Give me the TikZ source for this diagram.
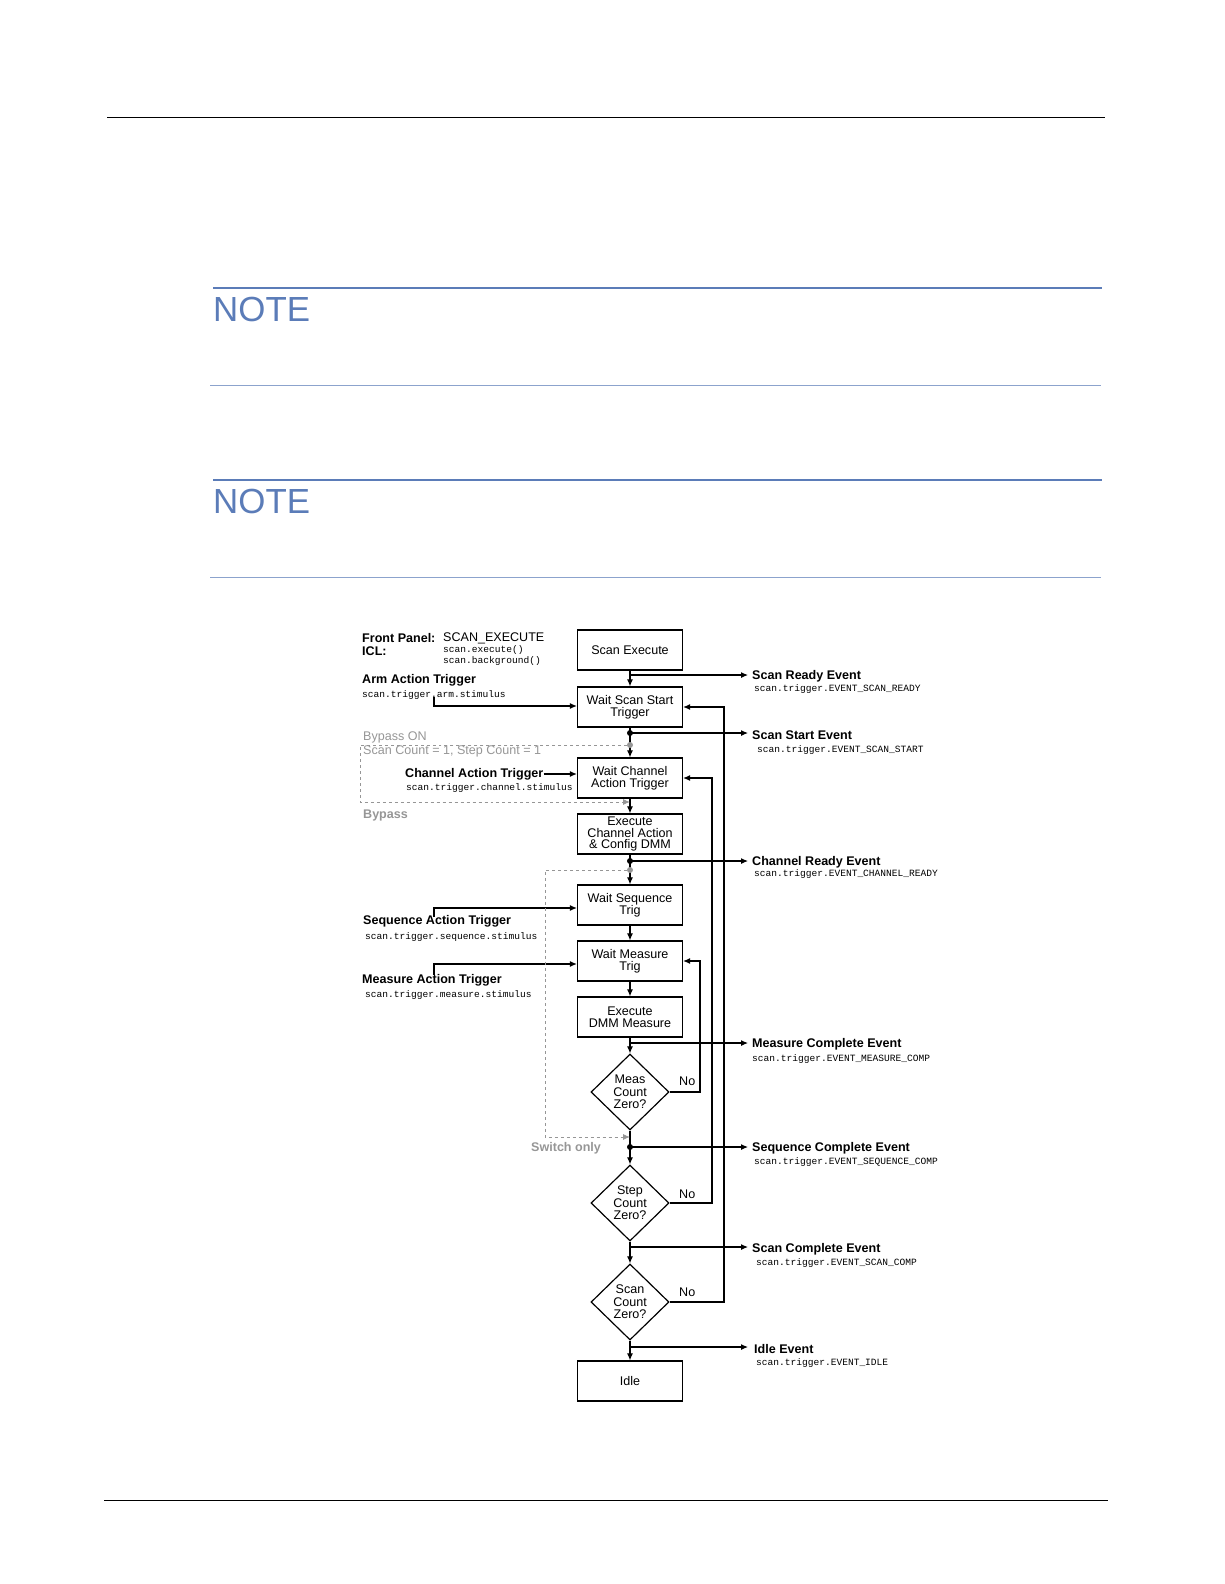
\documentclass[tikz,border=0pt]{standalone}
\usepackage{fontspec}
\setmainfont{Liberation Sans}
\newfontfamily\monof{Liberation Mono}
\usetikzlibrary{shapes.geometric,arrows.meta}
\definecolor{noteblue}{RGB}{91,124,184}
\definecolor{byg}{RGB}{150,150,150}
\begin{document}
\begin{tikzpicture}[x=1bp,y=-1bp,
  box/.style={draw,line width=1.2pt,minimum width=105bp,minimum height=40bp,inner sep=0pt,align=center,font=\fontsize{12.6}{12.5}\selectfont},
  dia/.style={draw,line width=1.2pt,diamond,minimum width=78bp,minimum height=76bp,inner sep=0pt,align=center,font=\fontsize{12.6}{12.5}\selectfont},
  lab/.style={anchor=west,inner sep=0pt,font=\fontsize{12.6}{12}\selectfont\bfseries},
  mono/.style={anchor=west,inner sep=0pt,font=\fontsize{9.6}{10}\monof},
  glab/.style={anchor=west,inner sep=0pt,text=byg,font=\fontsize{12.6}{12}\selectfont},
  ar/.style={line width=1.1pt,-{Latex[length=7pt,width=6pt]}},
  gar/.style={byg,dashed,line width=0.9pt,-{Latex[length=7pt,width=6pt]}},
  dot/.style={circle,fill,inner sep=0pt,minimum size=6bp}]
\useasboundingbox (0,0) rectangle (1224,1584);
% page furniture
\draw[line width=0.8pt] (107,117) -- (1105,117);
\draw[line width=0.8pt] (104,1500) -- (1108,1500);
\foreach \y in {288,480}{\draw[noteblue,line width=1.2pt] (213,\y) -- (1102,\y);}
\foreach \y in {385,577}{\draw[noteblue!70,line width=0.6pt] (210,\y) -- (1101,\y);}
\node[anchor=west,inner sep=0pt,text=noteblue,font=\fontsize{35}{35}\selectfont] (n1) at (213,309) {NOTE};
\node[anchor=west,inner sep=0pt,text=noteblue,font=\fontsize{35}{35}\selectfont] (n2) at (213,501) {NOTE};
% boxes
\node[box] (se) at (630,650) {Scan Execute};
\node[box] (wss) at (630,707) {Wait Scan Start\\Trigger};
\node[box] (wca) at (630,778) {Wait Channel\\Action Trigger};
\node[box,font=\fontsize{12.6}{11.5}\selectfont] (eca) at (630,834) {Execute\\Channel Action\\\& Config DMM};
\node[box] (wsq) at (630,905) {Wait Sequence\\Trig};
\node[box] (wm) at (630,961) {Wait Measure\\Trig};
\node[box] (edm) at (630,1017) {Execute\\DMM Measure};
\node[dia] (mc) at (630,1092) {Meas\\Count\\Zero?};
\node[dia] (sc) at (630,1203) {Step\\Count\\Zero?};
\node[dia] (scz) at (630,1302) {Scan\\Count\\Zero?};
\node[box] (idle) at (630,1381) {Idle};
% junction coordinates
\coordinate (j1) at (630,675); \coordinate (e1) at (748,675);
\coordinate (j2) at (630,733); \coordinate (e2) at (748,733);
\coordinate (j3) at (630,861); \coordinate (e3) at (748,861);
\coordinate (j4) at (630,1043); \coordinate (e4) at (748,1043);
\coordinate (j5) at (630,1147); \coordinate (e5) at (748,1147);
\coordinate (j6) at (630,1247); \coordinate (e6) at (748,1247);
\coordinate (j7) at (630,1347); \coordinate (e7) at (748,1347);
% main flow
\draw[ar] (se) -- (wss);
\draw[ar] (wss) -- (wca);
\draw[ar] (wca) -- (eca);
\draw[ar] (eca) -- (wsq);
\draw[ar] (wsq) -- (wm);
\draw[ar] (wm) -- (edm);
\draw[ar] (edm) -- (mc);
\draw[ar] (mc) -- (sc);
\draw[ar] (sc) -- (scz);
\draw[ar] (scz) -- (idle);
% events
\foreach \i in {1,...,7}{\draw[ar] (j\i) -- (e\i);}
\node[dot] (d2) at (j2) {}; \node[dot] (d3) at (j3) {}; \node[dot] (d5) at (j5) {};
% loops
\draw[ar] (scz.east) -- (724,1302) -- (724,707) -- (wss.east);
\draw[ar] (sc.east) -- (712,1203) -- (712,778) -- (wca.east);
\draw[ar] (mc.east) -- (700,1092) -- (700,961) -- (wm.east);
\node[anchor=west,inner sep=0pt,font=\fontsize{12.6}{12}\selectfont] (no1) at (679,1081) {No};
\node[anchor=west,inner sep=0pt,font=\fontsize{12.6}{12}\selectfont] (no2) at (679,1194) {No};
\node[anchor=west,inner sep=0pt,font=\fontsize{12.6}{12}\selectfont] (no3) at (679,1292) {No};
% event labels
\node[lab] (l1) at (752,676) {Scan Ready Event};
\node[mono] (m1) at (754,689) {scan.trigger.EVENT\_SCAN\_READY};
\node[lab] (l2) at (752,735) {Scan Start Event};
\node[mono] (m2) at (757,750) {scan.trigger.EVENT\_SCAN\_START};
\node[lab] (l3) at (752,862) {Channel Ready Event};
\node[mono] (m3) at (754,874) {scan.trigger.EVENT\_CHANNEL\_READY};
\node[lab] (l4) at (752,1044) {Measure Complete Event};
\node[mono] (m4) at (752,1059) {scan.trigger.EVENT\_MEASURE\_COMP};
\node[lab] (l5) at (752,1148) {Sequence Complete Event};
\node[mono] (m5) at (754,1162) {scan.trigger.EVENT\_SEQUENCE\_COMP};
\node[lab] (l6) at (752,1249) {Scan Complete Event};
\node[mono] (m6) at (756,1263) {scan.trigger.EVENT\_SCAN\_COMP};
\node[lab] (l7) at (754,1349) {Idle Event};
\node[mono] (m7) at (756,1363) {scan.trigger.EVENT\_IDLE};
% left labels
\node[lab] (fp) at (362,638) {Front Panel:};
\node[anchor=west,inner sep=0pt,font=\fontsize{12.6}{12}\selectfont] (fpv) at (443,638) {SCAN\_EXECUTE};
\node[lab] (icl) at (362,651) {ICL:};
\node[mono] (icl1) at (443,650) {scan.execute()};
\node[mono] (icl2) at (443,661) {scan.background()};
\node[lab] (arm) at (362,680) {Arm Action Trigger};
\node[mono] (armm) at (362,695) {scan.trigger.arm.stimulus};
\draw[ar] (434,697) -- (434,706) -- (wss.west|-0,706);
\node[lab] (cha) at (405,774) {Channel Action Trigger};
\node[mono] (cham) at (406,788) {scan.trigger.channel.stimulus};
\draw[ar] (cha.east) -- (wca.west|-cha.east);
\node[lab] (sqa) at (363,921) {Sequence Action Trigger};
\node[mono] (sqam) at (365,937) {scan.trigger.sequence.stimulus};
\draw[ar] (434,917) -- (434,908) -- (wsq.west|-0,908);
\node[lab] (msa) at (362,980) {Measure Action Trigger};
\node[mono] (msam) at (365,995) {scan.trigger.measure.stimulus};
\draw[ar] (434,975) -- (434,964) -- (wm.west|-0,964);
% bypass
\node[glab] (bon) at (363,737) {Bypass ON};
\node[glab] (bsc) at (363,751) {Scan Count = 1, Step Count = 1};
\node[glab,font=\fontsize{12.6}{12}\selectfont\bfseries] (byp) at (363,815) {Bypass};
\node[dot,fill=byg] (g1) at (630,745) {};
\draw[gar] (g1) -- (360,745) -- (360,802) -- (630,802);
\node[dot,fill=byg] (g2) at (630,870) {};
\draw[gar] (g2) -- (545,870) -- (545,1137) -- (630,1137);
\node[glab,font=\fontsize{12.6}{12}\selectfont\bfseries] (swo) at (531,1148) {Switch only};
\end{tikzpicture}
\end{document}
